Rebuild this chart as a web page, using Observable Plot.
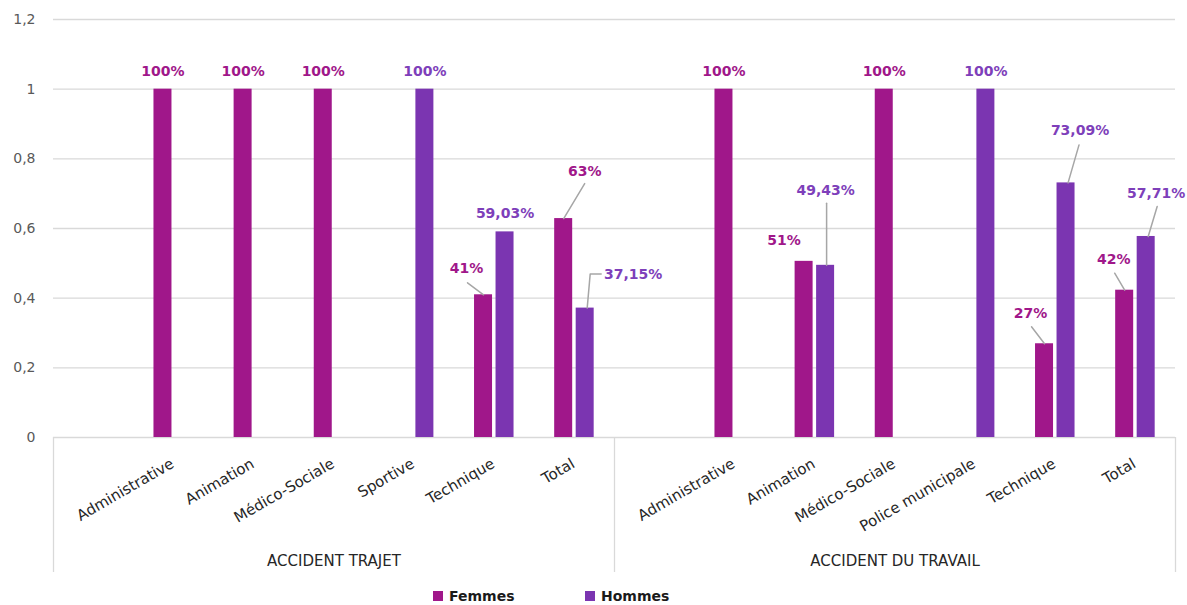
<!DOCTYPE html>
<html><head><meta charset="utf-8">
<script src="https://cdn.jsdelivr.net/npm/d3@7"></script>
<script src="https://cdn.jsdelivr.net/npm/@observablehq/plot@0.6"></script>
<style>
body{margin:0;background:#fff;font-family:"DejaVu Sans",sans-serif;}
#legend{position:relative;height:19px;width:1187px;}
.item{position:absolute;top:0;display:flex;align-items:center;font-weight:bold;font-size:14px;color:#1a1a1a;height:19px;white-space:nowrap}
.sw{width:10px;height:10px;margin-right:6px;display:inline-block}
</style></head><body>
<div id="chart"></div>
<div id="legend"></div>
<script>
// ---------- DATA ----------
const groups = ["ACCIDENT TRAJET", "ACCIDENT DU TRAVAIL"];
const series = ["Femmes", "Hommes"];
const categoriesTrajet = ["Administrative", "Animation", "Médico-Sociale", "Sportive", "Technique", "Total"];
const categoriesTravail = ["Administrative", "Animation", "Médico-Sociale", "Police municipale", "Technique", "Total"];
const trajetFemmes = [1, 1, 1, null, 0.4097, 0.6285];
const trajetHommes = [null, null, null, 1, 0.5903, 0.3715];
const travailFemmes = [1, 0.5057, 1, null, 0.2691, 0.4229];
const travailHommes = [null, 0.4943, null, 1, 0.7309, 0.5771];
const trajetFemmesLabels = ["100%", "100%", "100%", null, "41%", "63%"];
const trajetHommesLabels = [null, null, null, "100%", "59,03%", "37,15%"];
const travailFemmesLabels = ["100%", "51%", "100%", null, "27%", "42%"];
const travailHommesLabels = [null, "49,43%", null, "100%", "73,09%", "57,71%"];
const yTicks = [0, 0.2, 0.4, 0.6, 0.8, 1, 1.2];

// ---------- STYLE / LAYOUT ----------
const colors = ["#A0178A", "#7B35B1"];
const labelColors = ["#A0178A", "#7E3FBA"];
const W = 1187, H = 586, mL = 53, mR = 12, mT = 19, yZero = 437, mB = H - yZero;
const slotsPerGroup = 7; // one blank leading slot per group
const nSlots = groups.length * slotsPerGroup;
const pxPerX = (W - mL - mR) / nSlots;
const pxPerY = (yZero - mT) / 1.2;
const barW = 18 / pxPerX, gap = 3.5 / pxPerX;
// label offsets (px, relative to bar top centre) and leader lines
const defaultLabel = {label: [0, -18]};
const annotations = {
  "0|Technique|Femmes": {label: [-17, -26], leader: [[-16, -12], [0, 0]]},
  "0|Total|Femmes": {label: [21, -47], leader: [[21, -35], [0, 0]]},
  "0|Total|Hommes": {label: [48, -34], leader: [[16, -34], [5, -34], [2, 0]]},
  "1|Animation|Femmes": {label: [-20, -21]},
  "1|Animation|Hommes": {label: [0, -75], leader: [[1, -62], [1, 0]]},
  "1|Technique|Femmes": {label: [-14, -30], leader: [[-13, -17], [0, 0]]},
  "1|Technique|Hommes": {label: [14, -52], leader: [[13, -38], [2, 0]]},
  "1|Total|Femmes": {label: [-11, -31], leader: [[-10, -17], [0, 0]]},
  "1|Total|Hommes": {label: [10, -43], leader: [[11, -30], [2, 0]]}
};

const groupData = [
  {cats: categoriesTrajet, vals: [trajetFemmes, trajetHommes], labels: [trajetFemmesLabels, trajetHommesLabels]},
  {cats: categoriesTravail, vals: [travailFemmes, travailHommes], labels: [travailFemmesLabels, travailHommesLabels]}
];

const bars = [], leaders = [], catRows = [], groupRows = [];
groupData.forEach((gd, g) => {
  groupRows.push({name: groups[g], x: g * slotsPerGroup + slotsPerGroup / 2, y0: 0});
  gd.cats.forEach((cat, i) => {
    const center = g * slotsPerGroup + 1 + i + 0.5;
    catRows.push({name: cat, x: center, y0: 0});
    series.forEach((s, si) => {
      const v = gd.vals[si][i];
      if (v == null) return;
      const x1 = si === 0 ? center - gap / 2 - barW : center + gap / 2;
      const bx = x1 + barW / 2;
      const key = `${g}|${cat}|${s}`;
      const ann = annotations[key] || defaultLabel;
      bars.push({series: s, si, value: v, x1, x2: x1 + barW, label: gd.labels[si][i],
        lx: bx + ann.label[0] / pxPerX, ly: v - ann.label[1] / pxPerY});
      if (ann.leader) ann.leader.forEach(p => leaders.push({id: key, x: bx + p[0] / pxPerX, y: v - p[1] / pxPerY}));
    });
  });
});
const dividers = d3.range(0, nSlots + 1, slotsPerGroup);

const chart = Plot.plot({
  width: W, height: H,
  marginLeft: mL, marginRight: mR, marginTop: mT, marginBottom: mB,
  x: {domain: [0, nSlots], axis: null},
  y: {domain: [0, 1.2], label: null},
  color: {domain: series, range: colors},
  style: {fontFamily: "DejaVu Sans", background: "#fff"},
  marks: [
    Plot.gridY(yTicks, {stroke: "#d9d9d9", strokeOpacity: 1, strokeWidth: 1.3}),
    Plot.axisY(yTicks, {tickSize: 0, tickPadding: 18, label: null, fontSize: 14, color: "#595959",
      tickFormat: d => String(d).replace(".", ",")}),
    Plot.ruleX(dividers, {x: d => d, y1: 0, y2: -(572 - yZero) / pxPerY, stroke: "#d9d9d9", strokeWidth: 1.3}),
    Plot.rectY(bars, {x1: "x1", x2: "x2", y: "value", fill: "series"}),
    Plot.line(leaders, {x: "x", y: "y", z: "id", stroke: "#a6a6a6", strokeWidth: 1.5}),
    Plot.text(bars.filter(d => d.si === 0), {x: "lx", y: "ly", text: "label", fill: labelColors[0], fontWeight: "bold", fontSize: 14}),
    Plot.text(bars.filter(d => d.si === 1), {x: "lx", y: "ly", text: "label", fill: labelColors[1], fontWeight: "bold", fontSize: 14}),
    Plot.text(catRows, {x: "x", y: "y0", text: "name", rotate: -30, textAnchor: "end", dx: -1, dy: 25, fontSize: 15, fill: "#262626"}),
    Plot.text(groupRows, {x: "x", y: "y0", text: "name", dy: 124, fontSize: 15, fill: "#262626"})
  ]
});
document.getElementById("chart").appendChild(chart);

// legend
const legend = document.getElementById("legend");
const legendX = [433, 585];
series.forEach((s, i) => {
  const it = document.createElement("div");
  it.className = "item";
  it.style.left = legendX[i] + "px";
  it.innerHTML = `<span class="sw" style="background:${colors[i]}"></span>${s}`;
  legend.appendChild(it);
});
</script>
</body></html>
